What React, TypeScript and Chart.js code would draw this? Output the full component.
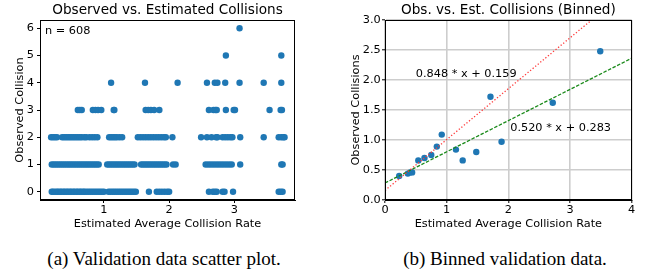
import React, { useEffect, useRef } from 'react';
import { Chart, registerables } from 'chart.js';

Chart.register(...registerables);

// ---------- Left panel: raw validation scatter (x values per observed count) ----------
const obsRow0 = [0.20, 0.22, 0.25, 0.28, 0.30, 0.33, 0.35, 0.38, 0.40, 0.43, 0.45, 0.48, 0.50, 0.53, 0.55, 0.58, 0.60, 0.63, 0.65, 0.68, 0.70, 0.73, 0.76, 0.79, 0.82, 0.85, 0.88, 0.91, 0.94, 0.97, 1.00, 1.07, 1.10, 1.13, 1.16, 1.19, 1.22, 1.25, 1.28, 1.31, 1.34, 1.37, 1.40, 1.43, 1.46, 1.49, 1.69, 1.81, 1.85, 1.89, 1.93, 1.97, 2.00, 2.61, 2.67, 2.70, 2.73, 2.82, 2.85, 2.98, 3.68, 3.71, 3.74];
const obsRow1 = [0.20, 0.23, 0.26, 0.29, 0.32, 0.35, 0.38, 0.41, 0.44, 0.47, 0.50, 0.53, 0.56, 0.59, 0.62, 0.65, 0.68, 0.71, 0.74, 0.77, 0.80, 0.83, 0.86, 0.89, 0.92, 1.05, 1.08, 1.11, 1.14, 1.17, 1.20, 1.23, 1.26, 1.29, 1.32, 1.35, 1.38, 1.41, 1.44, 1.47, 1.57, 1.60, 1.63, 1.66, 1.69, 1.72, 1.75, 1.78, 1.81, 1.84, 1.87, 1.90, 1.93, 1.96, 2.06, 2.10, 2.56, 2.60, 2.64, 2.68, 2.72, 2.76, 2.80, 2.84, 2.88, 2.92, 2.96, 3.09, 3.72, 3.74];
const obsRow2 = [0.19, 0.22, 0.25, 0.28, 0.36, 0.39, 0.42, 0.45, 0.48, 0.51, 0.54, 0.57, 0.60, 0.63, 0.66, 0.70, 0.73, 0.78, 0.82, 0.86, 0.90, 1.08, 1.11, 1.14, 1.17, 1.20, 1.24, 1.28, 1.52, 1.56, 1.60, 1.64, 1.68, 1.72, 1.76, 1.80, 1.84, 1.88, 1.92, 1.95, 2.05, 2.49, 2.58, 2.65, 2.72, 2.74, 2.82, 2.86, 2.90, 2.94, 2.97, 3.09, 3.45, 3.68, 3.72, 3.75, 3.77];
const obsRow3 = [0.60, 0.63, 0.66, 0.83, 0.87, 0.91, 0.96, 1.15, 1.16, 1.64, 1.68, 1.72, 1.77, 1.85, 2.61, 2.68, 2.71, 2.73, 2.87, 2.99, 3.01, 3.54, 3.71, 3.73];
const obsRow4 = [1.11, 1.63, 2.13, 2.58, 2.70, 2.74, 2.86, 3.08, 3.45, 3.72];
const obsRow5 = [2.87, 3.72];
const obsRow6 = [3.08];
const obsRows = [obsRow0, obsRow1, obsRow2, obsRow3, obsRow4, obsRow5, obsRow6];
const sampleLabel = 'n = 608';

const leftXTicks = [1, 2, 3];
const leftYTicks = [0, 1, 2, 3, 4, 5, 6];

// ---------- Right panel: binned data ----------
const binX = [0.23, 0.37, 0.41, 0.44, 0.54, 0.64, 0.75, 0.84, 0.92, 1.15, 1.26, 1.48, 1.71, 1.89, 2.72, 3.49];
const binY = [0.40, 0.44, 0.46, 0.46, 0.66, 0.70, 0.75, 0.89, 1.09, 0.84, 0.66, 0.80, 1.72, 0.97, 1.62, 2.48];

const fitSlopes = [0.848, 0.520];
const fitIntercepts = [0.159, 0.283];
const fitLabels = ['0.848 * x + 0.159', '0.520 * x + 0.283'];
const fitLabelAnchors = [[0.5, 2.05], [2.03, 1.15]];
const fitRangeX = [0, 4];

const rightXTicks = [0, 1, 2, 3, 4];
const rightYTicks = [0, 0.5, 1.0, 1.5, 2.0, 2.5, 3.0];

const FAMILY = '"DejaVu Sans", sans-serif';
const BLUE = '#1f77b4';
const tickFont = { family: FAMILY, size: 11.3, weight: 'normal' as const };
const titleFont = { family: FAMILY, size: 13.6, weight: 'normal' as const };

const framePlugin = {
  id: 'frame',
  afterDraw(chart: any) {
    const { ctx, chartArea: a } = chart;
    ctx.save();
    ctx.strokeStyle = '#000';
    ctx.lineWidth = 1;
    ctx.strokeRect(Math.round(a.left) + 0.5, Math.round(a.top) + 0.5, Math.round(a.right - a.left) - 1, Math.round(a.bottom - a.top) - 1);
    ctx.restore();
  },
};

function LeftChart() {
  const ref = useRef<HTMLCanvasElement>(null);
  useEffect(() => {
    const points: { x: number; y: number }[] = [];
    obsRows.forEach((row, y) => row.forEach((x) => points.push({ x, y })));
    const textPlugin = {
      id: 'ntext',
      afterDatasetsDraw(chart: any) {
        const { ctx, chartArea: a } = chart;
        ctx.save();
        ctx.font = `11.3px ${FAMILY}`;
        ctx.fillStyle = '#000';
        ctx.textBaseline = 'alphabetic';
        ctx.textAlign = 'left';
        ctx.fillText(sampleLabel, a.left + 5, a.top + 14);
        ctx.restore();
      },
    };
    const chart = new Chart(ref.current as HTMLCanvasElement, {
      type: 'scatter',
      data: {
        datasets: [
          { data: points, backgroundColor: BLUE, borderWidth: 0, pointRadius: 3.2, pointHoverRadius: 3.2 },
        ],
      },
      options: {
        animation: false,
        responsive: false,
        devicePixelRatio: 1,
        events: [],
        layout: { padding: { left: 0, right: 25, top: 0, bottom: 0 } },
        plugins: {
          legend: { display: false },
          tooltip: { enabled: false },
          title: {
            display: true,
            text: 'Observed vs. Estimated Collisions',
            fullSize: false,
            font: titleFont,
            color: '#000',
            padding: { top: 2.4, bottom: 1.28 },
          },
        },
        scales: {
          x: {
            type: 'linear',
            min: 0.02,
            max: 3.93,
            afterBuildTicks: (s: any) => { s.ticks = leftXTicks.map((v) => ({ value: v })); },
            afterFit: (s: any) => { s.height = 35; },
            grid: { drawOnChartArea: false, tickLength: 3, tickColor: '#000' },
            border: { display: true, color: '#000' },
            ticks: { font: tickFont, color: '#000', padding: 0, maxRotation: 0, callback: (v: any) => String(v) },
            title: { display: true, text: 'Estimated Average Collision Rate', font: tickFont, color: '#000', padding: { top: 0, bottom: 4.2 } },
          },
          y: {
            type: 'linear',
            min: -0.3,
            max: 6.3,
            afterBuildTicks: (s: any) => { s.ticks = leftYTicks.map((v) => ({ value: v })); },
            afterFit: (s: any) => { s.width = 40; },
            grid: { drawOnChartArea: false, tickLength: 3, tickColor: '#000' },
            border: { display: true, color: '#000' },
            ticks: { font: tickFont, color: '#000', padding: 3, callback: (v: any) => String(v) },
            title: { display: true, text: 'Observed Collision', font: tickFont, color: '#000', padding: { top: 13.2, bottom: 0 } },
          },
        },
      },
      plugins: [framePlugin, textPlugin],
    });
    return () => chart.destroy();
  }, []);
  return <canvas ref={ref} width={320} height={235} style={{ width: 320, height: 235, display: 'block' }} />;
}

function RightChart() {
  const ref = useRef<HTMLCanvasElement>(null);
  useEffect(() => {
    const binPoints = binX.map((x, i) => ({ x, y: binY[i] }));
    const fitLine = (k: number) => fitRangeX.map((x) => ({ x, y: fitSlopes[k] * x + fitIntercepts[k] }));
    const textPlugin = {
      id: 'eqtext',
      afterDatasetsDraw(chart: any) {
        const { ctx } = chart;
        const xs = chart.scales.x;
        const ys = chart.scales.y;
        ctx.save();
        ctx.font = `11.3px ${FAMILY}`;
        ctx.fillStyle = '#000';
        ctx.textBaseline = 'alphabetic';
        ctx.textAlign = 'left';
        fitLabels.forEach((t, i) => {
          ctx.fillText(t, xs.getPixelForValue(fitLabelAnchors[i][0]), ys.getPixelForValue(fitLabelAnchors[i][1]));
        });
        ctx.restore();
      },
    };
    const chart = new Chart(ref.current as HTMLCanvasElement, {
      type: 'scatter',
      data: {
        datasets: [
          { type: 'line', data: fitLine(0), borderColor: '#ff3b3b', borderWidth: 1.3, borderDash: [1.3, 2], pointRadius: 0, fill: false },
          { type: 'line', data: fitLine(1), borderColor: '#1a8a1a', borderWidth: 1.3, borderDash: [3.5, 1.6], pointRadius: 0, fill: false },
          { data: binPoints, backgroundColor: BLUE, borderWidth: 0, pointRadius: 3.2, pointHoverRadius: 3.2 },
        ],
      },
      options: {
        animation: false,
        responsive: false,
        devicePixelRatio: 1,
        events: [],
        layout: { padding: { left: 0, right: 14.3, top: 0, bottom: 0 } },
        plugins: {
          legend: { display: false },
          tooltip: { enabled: false },
          title: {
            display: true,
            text: 'Obs. vs. Est. Collisions (Binned)',
            fullSize: false,
            font: titleFont,
            color: '#000',
            padding: { top: 2.4, bottom: 1.28 },
          },
        },
        scales: {
          x: {
            type: 'linear',
            min: 0,
            max: 4,
            afterBuildTicks: (s: any) => { s.ticks = rightXTicks.map((v) => ({ value: v })); },
            afterFit: (s: any) => { s.height = 35; },
            grid: { drawOnChartArea: true, color: '#cdcdcd', lineWidth: 1.6, tickLength: 3, tickColor: '#000', tickWidth: 1 },
            border: { display: true, color: '#000' },
            ticks: { font: tickFont, color: '#000', padding: 0, maxRotation: 0, callback: (v: any) => String(v) },
            title: { display: true, text: 'Estimated Average Collision Rate', font: tickFont, color: '#000', padding: { top: 0, bottom: 4.2 } },
          },
          y: {
            type: 'linear',
            min: 0,
            max: 3,
            afterBuildTicks: (s: any) => { s.ticks = rightYTicks.map((v) => ({ value: v })); },
            afterFit: (s: any) => { s.width = 65; },
            grid: { drawOnChartArea: true, color: '#cdcdcd', lineWidth: 1.6, tickLength: 3, tickColor: '#000', tickWidth: 1 },
            border: { display: true, color: '#000' },
            ticks: { font: tickFont, color: '#000', padding: 1.3, callback: (v: any) => Number(v).toFixed(1) },
            title: { display: true, text: 'Observed Collisions', font: tickFont, color: '#000', padding: { top: 28.9, bottom: 0 } },
          },
        },
      },
      plugins: [framePlugin, textPlugin],
    });
    return () => chart.destroy();
  }, []);
  return <canvas ref={ref} width={326} height={235} style={{ width: 326, height: 235, display: 'block' }} />;
}

const captionStyle: React.CSSProperties = {
  position: 'absolute',
  top: 249,
  width: 300,
  textAlign: 'center',
  fontFamily: '"Liberation Serif", "Times New Roman", serif',
  fontSize: 19,
  lineHeight: '19px',
  color: '#000',
  whiteSpace: 'nowrap',
};

export default function App() {
  return (
    <div style={{ position: 'absolute', left: 0, top: 0, width: 646, height: 279, background: '#fff', overflow: 'hidden' }}>
      <div style={{ position: 'absolute', left: 0, top: 0 }}>
        <LeftChart />
      </div>
      <div style={{ position: 'absolute', left: 320, top: 0 }}>
        <RightChart />
      </div>
      <div style={{ ...captionStyle, left: 164 - 150 }}>(a) Validation data scatter plot.</div>
      <div style={{ ...captionStyle, left: 505 - 150 }}>(b) Binned validation data.</div>
    </div>
  );
}
